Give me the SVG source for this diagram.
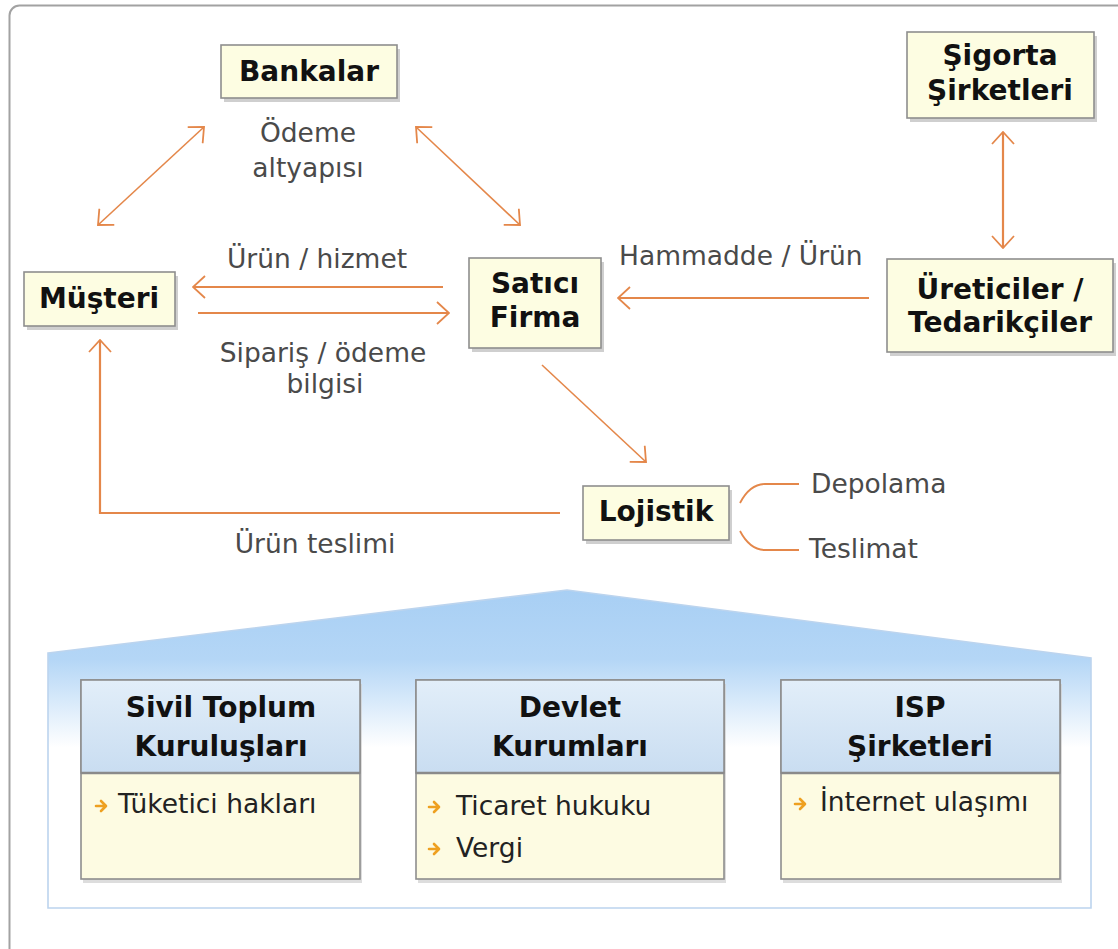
<svg xmlns="http://www.w3.org/2000/svg" width="1118" height="949" viewBox="0 0 1118 949">
<style>
.box{fill:#fdfde2;stroke:#8e8e8e;stroke-width:1.6}
.shd{fill:#cfcfcf}
.bt{font-family:"DejaVu Sans",Verdana,sans-serif;font-weight:bold;font-size:28px;fill:#111;text-anchor:middle}
.lb{font-family:"DejaVu Sans",Verdana,sans-serif;font-size:26.5px;fill:#4a4a4a}
.ct{fill:#222}
.mid{text-anchor:middle}
.cn{fill:none;stroke:#e4874a;stroke-width:2.2}
.dg{fill:none;stroke:#e4874a;stroke-width:1.6}
.br{fill:none;stroke:#e4874a;stroke-width:1.8}
.bl{fill:none;stroke:#eea020;stroke-width:2.6;stroke-linecap:round;stroke-linejoin:round}
.hd{fill:url(#hg);stroke:#8e8e8e;stroke-width:1.6}
.bd{fill:#fdfbe2;stroke:#8e8e8e;stroke-width:1.6}
</style>
<defs>
<marker id="ar" viewBox="0 0 14 24" refX="13" refY="12" markerWidth="14" markerHeight="24" markerUnits="userSpaceOnUse" orient="auto-start-reverse">
<path d="M1,1 L13,12 L1,23" fill="none" stroke="#e4874a" stroke-width="1.8"/>
</marker>
<linearGradient id="pg" x1="0" y1="590" x2="0" y2="800" gradientUnits="userSpaceOnUse">
<stop offset="0" stop-color="#a8cff4"/>
<stop offset="0.33" stop-color="#b4d6f6"/>
<stop offset="0.75" stop-color="#ffffff"/>
<stop offset="1" stop-color="#ffffff"/>
</linearGradient>
<linearGradient id="hg" x1="0" y1="0" x2="0" y2="1">
<stop offset="0" stop-color="#e2eef9"/>
<stop offset="1" stop-color="#c9ddf1"/>
</linearGradient>
</defs>
<rect x="0" y="0" width="1118" height="949" fill="#ffffff"/>
<rect x="9.5" y="5.5" width="1200" height="1000" rx="10" fill="#ffffff" stroke="#a2a2a2" stroke-width="2"/>

<g id="connectors">
<line class="dg" x1="98" y1="225" x2="204" y2="127" marker-start="url(#ar)" marker-end="url(#ar)"/>
<line class="dg" x1="416" y1="127" x2="520" y2="225" marker-start="url(#ar)" marker-end="url(#ar)"/>
<line class="cn" x1="1003" y1="132" x2="1003" y2="248" marker-start="url(#ar)" marker-end="url(#ar)"/>
<line class="cn" x1="443" y1="287" x2="193" y2="287" marker-end="url(#ar)"/>
<line class="cn" x1="198" y1="313" x2="449" y2="313" marker-end="url(#ar)"/>
<line class="cn" x1="869" y1="298" x2="618" y2="298" marker-end="url(#ar)"/>
<line class="dg" x1="542" y1="365" x2="646" y2="462" marker-end="url(#ar)"/>
<polyline class="cn" points="560,513 100,513 100,340" marker-end="url(#ar)"/>
<path class="br" d="M740,503 Q750,484 765,484 H799"/>
<path class="br" d="M740,531 Q750,550 765,550 H799"/>
</g>

<g id="label-odeme">
<text class="lb mid" x="308" y="142">Ödeme</text>
<text class="lb mid" x="308" y="177">altyapısı</text>
</g>
<text class="lb mid" x="317" y="268">Ürün / hizmet</text>
<text class="lb mid" x="323" y="362">Sipariş / ödeme</text>
<text class="lb mid" x="325" y="393">bilgisi</text>
<text class="lb" x="619" y="265">Hammadde / Ürün</text>
<text class="lb mid" x="315" y="553">Ürün teslimi</text>
<text class="lb" x="811" y="493">Depolama</text>
<text class="lb" x="809" y="558">Teslimat</text>

<g id="node-bankalar">
<rect class="shd" x="224" y="49" width="176" height="53"/>
<rect class="box" x="221" y="45" width="176" height="53"/>
<text class="bt" x="309" y="81">Bankalar</text>
</g>
<g id="node-sigorta">
<rect class="shd" x="910" y="36" width="187" height="86"/>
<rect class="box" x="907" y="32" width="187" height="86"/>
<text class="bt" x="1000" y="65">Şigorta</text>
<text class="bt" x="1000" y="100">Şirketleri</text>
</g>
<g id="node-musteri">
<rect class="shd" x="27" y="276" width="151" height="54"/>
<rect class="box" x="24" y="272" width="151" height="54"/>
<text class="bt" x="99" y="308">Müşteri</text>
</g>
<g id="node-satici">
<rect class="shd" x="472" y="262" width="132" height="90"/>
<rect class="box" x="469" y="258" width="132" height="90"/>
<text class="bt" x="535" y="293">Satıcı</text>
<text class="bt" x="535" y="327">Firma</text>
</g>
<g id="node-ureticiler">
<rect class="shd" x="890" y="263" width="226" height="93"/>
<rect class="box" x="887" y="259" width="226" height="93"/>
<text class="bt" x="1000" y="299">Üreticiler /</text>
<text class="bt" x="1000" y="332">Tedarikçiler</text>
</g>
<g id="node-lojistik">
<rect class="shd" x="586" y="490" width="146" height="54"/>
<rect class="box" x="583" y="486" width="146" height="54"/>
<text class="bt" x="656" y="521">Lojistik</text>
</g>

<g id="panel">
<polygon points="48,653 567,590 1091,658 1091,908 48,908" fill="url(#pg)" stroke="#bcd4ee" stroke-width="1.6"/>
</g>

<g id="card-stk">
<rect class="shd" x="83" y="684" width="279" height="199" opacity="0.7"/>
<rect class="bd" x="81" y="680" width="279" height="199"/>
<rect class="hd" x="81" y="680" width="279" height="93"/>
<line x1="81" y1="773" x2="360" y2="773" stroke="#8a8a8a" stroke-width="2.4"/>
<text class="bt" x="221" y="717">Sivil Toplum</text>
<text class="bt" x="221" y="756">Kuruluşları</text>
<path class="bl" d="M96,806 H105 M101,801 L106,806 L101,811"/>
<text class="lb ct" x="118" y="813">Tüketici hakları</text>
</g>
<g id="card-devlet">
<rect class="shd" x="418" y="684" width="308" height="199" opacity="0.7"/>
<rect class="bd" x="416" y="680" width="308" height="199"/>
<rect class="hd" x="416" y="680" width="308" height="93"/>
<line x1="416" y1="773" x2="724" y2="773" stroke="#8a8a8a" stroke-width="2.4"/>
<text class="bt" x="570" y="717">Devlet</text>
<text class="bt" x="570" y="756">Kurumları</text>
<path class="bl" d="M429,807 H438 M434,802 L439,807 L434,812"/>
<text class="lb ct" x="456" y="815">Ticaret hukuku</text>
<path class="bl" d="M429,849 H438 M434,844 L439,849 L434,854"/>
<text class="lb ct" x="456" y="857">Vergi</text>
</g>
<g id="card-isp">
<rect class="shd" x="783" y="684" width="279" height="199" opacity="0.7"/>
<rect class="bd" x="781" y="680" width="279" height="199"/>
<rect class="hd" x="781" y="680" width="279" height="93"/>
<line x1="781" y1="773" x2="1060" y2="773" stroke="#8a8a8a" stroke-width="2.4"/>
<text class="bt" x="920" y="717">ISP</text>
<text class="bt" x="920" y="756">Şirketleri</text>
<path class="bl" d="M795,804 H804 M800,799 L805,804 L800,809"/>
<text class="lb ct" x="820" y="811">İnternet ulaşımı</text>
</g>
</svg>
